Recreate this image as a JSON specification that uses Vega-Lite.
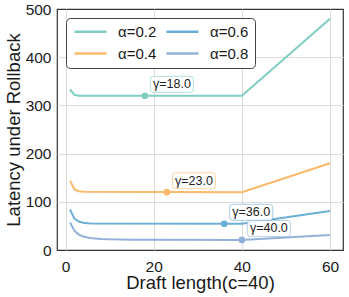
{
  "$schema": "https://vega.github.io/schema/vega-lite/v6.json",
  "width": 286,
  "height": 241,
  "autosize": "none",
  "padding": {"left": 57, "top": 9, "right": 6, "bottom": 47},
  "config": {
    "font": "Liberation Sans",
    "view": {"stroke": "#333333", "strokeWidth": 1.2},
    "axis": {
      "grid": true,
      "gridColor": "#dcdcdc",
      "gridWidth": 1,
      "domain": false,
      "ticks": false,
      "labelFontSize": 15.5,
      "labelColor": "#1a1a1a",
      "titleFontSize": 18.5,
      "titleFontWeight": "normal",
      "titleColor": "#1a1a1a"
    }
  },
  "datasets": {
    "lines": [
      {"a": "α=0.2", "x": 1, "y": 333},
      {"a": "α=0.2", "x": 2, "y": 322},
      {"a": "α=0.2", "x": 3, "y": 320},
      {"a": "α=0.2", "x": 40, "y": 320},
      {"a": "α=0.2", "x": 60, "y": 480},
      {"a": "α=0.4", "x": 1, "y": 144},
      {"a": "α=0.4", "x": 2, "y": 126},
      {"a": "α=0.4", "x": 3, "y": 122},
      {"a": "α=0.4", "x": 4, "y": 121},
      {"a": "α=0.4", "x": 40, "y": 120},
      {"a": "α=0.4", "x": 60, "y": 180},
      {"a": "α=0.6", "x": 1, "y": 84},
      {"a": "α=0.6", "x": 2, "y": 65},
      {"a": "α=0.6", "x": 3, "y": 59},
      {"a": "α=0.6", "x": 4, "y": 56.5},
      {"a": "α=0.6", "x": 5, "y": 55.5},
      {"a": "α=0.6", "x": 6, "y": 55},
      {"a": "α=0.6", "x": 40, "y": 54.5},
      {"a": "α=0.6", "x": 60, "y": 81},
      {"a": "α=0.8", "x": 1, "y": 57},
      {"a": "α=0.8", "x": 2, "y": 40},
      {"a": "α=0.8", "x": 3, "y": 32},
      {"a": "α=0.8", "x": 4, "y": 28},
      {"a": "α=0.8", "x": 5, "y": 26},
      {"a": "α=0.8", "x": 6, "y": 24.5},
      {"a": "α=0.8", "x": 8, "y": 23},
      {"a": "α=0.8", "x": 10, "y": 22.2},
      {"a": "α=0.8", "x": 15, "y": 21.5},
      {"a": "α=0.8", "x": 20, "y": 21.2},
      {"a": "α=0.8", "x": 40, "y": 21},
      {"a": "α=0.8", "x": 60, "y": 31}
    ],
    "marks": [
      {"a": "α=0.2", "x": 18, "y": 320, "label": "γ=18.0"},
      {"a": "α=0.4", "x": 23, "y": 120, "label": "γ=23.0"},
      {"a": "α=0.6", "x": 36, "y": 54.5, "label": "γ=36.0"},
      {"a": "α=0.8", "x": 40, "y": 21, "label": "γ=40.0"}
    ]
  },
  "encoding": {
    "x": {
      "field": "x", "type": "quantitative",
      "scale": {"domain": [-1.95, 62.95], "nice": false, "zero": false},
      "axis": {"values": [0, 20, 40, 60], "labelPadding": 9, "title": "Draft length(c=40)", "titleBaseline": "alphabetic", "titleY": 38.5}
    },
    "y": {
      "field": "y", "type": "quantitative",
      "scale": {"domain": [0, 500], "nice": false},
      "axis": {
        "values": [0, 100, 200, 300, 400, 500],
        "labelPadding": 6,
        "title": "Latency under Rollback",
        "titleBaseline": "alphabetic",
        "titleX": -38,
        "titleY": 120.5,
        "gridOpacity": {"condition": {"test": "datum.value === 0 || datum.value === 500", "value": 0}, "value": 1}
      }
    }
  },
  "layer": [
    {
      "data": {"name": "lines"},
      "mark": {"type": "line", "strokeWidth": 2},
      "encoding": {
        "color": {
          "field": "a", "type": "nominal",
          "scale": {"domain": ["α=0.2", "α=0.4", "α=0.6", "α=0.8"], "range": ["#7fcdc3", "#fdb96b", "#6baed6", "#92b1da"]},
          "legend": {
            "orient": "top-left", "offset": 9, "columns": 2, "title": null,
            "symbolType": "M-1,0H5.4", "symbolSize": 100, "symbolStrokeWidth": 2.5,
            "labelFontSize": 15, "labelOffset": 31, "labelColor": "#1a1a1a",
            "columnPadding": 4, "rowPadding": 6, "padding": 6,
            "strokeColor": "#444444", "fillColor": "white", "cornerRadius": 4
          }
        }
      }
    },
    {
      "data": {"name": "marks"},
      "mark": {"type": "point", "filled": true, "size": 45, "opacity": 1},
      "encoding": {
        "color": {"field": "a", "type": "nominal", "legend": null}
      }
    },
    {
      "data": {"name": "marks"},
      "mark": {
        "type": "point",
        "shape": "M0.396,-0.902H2.116Q2.256,-0.902 2.256,-0.762V-0.298Q2.256,-0.158 2.116,-0.158H0.396Q0.256,-0.158 0.256,-0.298V-0.762Q0.256,-0.902 0.396,-0.902Z",
        "size": 1849, "filled": false, "fill": "white", "fillOpacity": 0.9, "strokeWidth": 1, "opacity": 1, "strokeOpacity": 0.6
      },
      "encoding": {
        "color": {"field": "a", "type": "nominal", "legend": null}
      }
    },
    {
      "data": {"name": "marks"},
      "mark": {"type": "text", "dx": 27, "dy": -11.5, "align": "center", "baseline": "middle", "fontSize": 12.5, "color": "#222222"},
      "encoding": {
        "text": {"field": "label"}
      }
    }
  ]
}
